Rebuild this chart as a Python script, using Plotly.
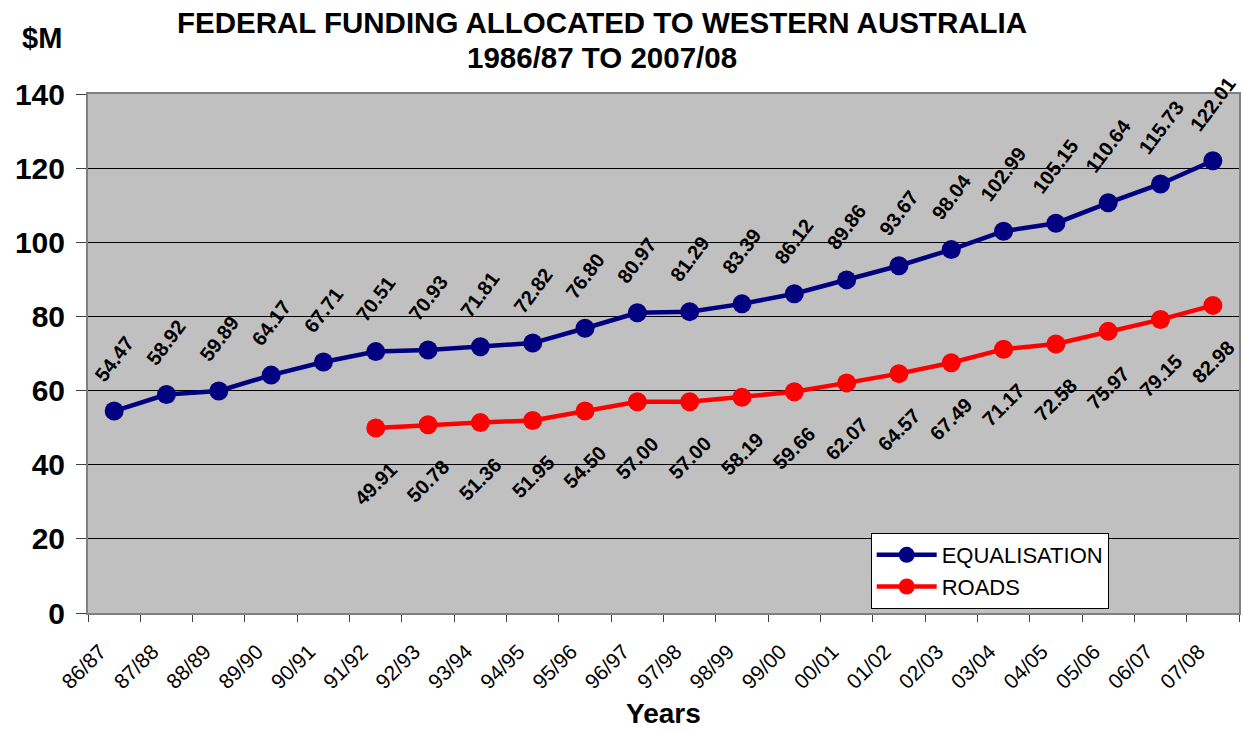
import plotly.graph_objects as go

years = ["86/87", "87/88", "88/89", "89/90", "90/91", "91/92", "92/93", "93/94",
         "94/95", "95/96", "96/97", "97/98", "98/99", "99/00", "00/01", "01/02",
         "02/03", "03/04", "04/05", "05/06", "06/07", "07/08"]
equalisation = [54.47, 58.92, 59.89, 64.17, 67.71, 70.51, 70.93, 71.81, 72.82, 76.80,
                 80.97, 81.29, 83.39, 86.12, 89.86, 93.67, 98.04, 102.99, 105.15,
                 110.64, 115.73, 122.01]
roads_years = years[5:]
roads = [49.91, 50.78, 51.36, 51.95, 54.50, 57.00, 57.00, 58.19, 59.66, 62.07,
         64.57, 67.49, 71.17, 72.58, 75.97, 79.15, 82.98]

FONT = "Liberation Sans, Arial, sans-serif"
BLUE = "#000080"
RED = "#FF0000"

fig = go.Figure()
fig.add_trace(go.Scatter(x=years, y=equalisation, mode="lines+markers", name="EQUALISATION",
                         line=dict(color=BLUE, width=4.5), marker=dict(color=BLUE, size=19),
                         cliponaxis=False))
fig.add_trace(go.Scatter(x=roads_years, y=roads, mode="lines+markers", name="ROADS",
                         line=dict(color=RED, width=4.5), marker=dict(color=RED, size=19),
                         cliponaxis=False))

annotations = []
for xv, yv in zip(years, equalisation):
    annotations.append(dict(x=xv, y=yv, xref="x", yref="y", text=f"{yv:.2f}", showarrow=False,
                            textangle=-53, xanchor="center", yanchor="bottom", yshift=23,
                            font=dict(family=FONT, size=20, color="black", weight="bold")))
for xv, yv in zip(roads_years, roads):
    annotations.append(dict(x=xv, y=yv, xref="x", yref="y", text=f"{yv:.2f}", showarrow=False,
                            textangle=-45, xanchor="center", yanchor="top", yshift=-28,
                            font=dict(family=FONT, size=20, color="black", weight="bold")))

annotations += [
    dict(text="FEDERAL FUNDING ALLOCATED TO WESTERN AUSTRALIA", xref="paper", yref="paper",
         x=0.4467, y=1.1387, xanchor="center", yanchor="middle", showarrow=False,
         font=dict(family=FONT, size=29.5, color="black", weight="bold")),
    dict(text="1986/87 TO 2007/08", xref="paper", yref="paper",
         x=0.4467, y=1.0694, xanchor="center", yanchor="middle", showarrow=False,
         font=dict(family=FONT, size=29.5, color="black", weight="bold")),
    dict(text="$M", xref="paper", yref="paper", x=-0.0399, y=1.108, xanchor="center",
         yanchor="middle", showarrow=False,
         font=dict(family=FONT, size=29, color="black", weight="bold")),
    dict(text="Years", xref="paper", yref="paper", x=0.5, y=-0.1927, xanchor="center",
         yanchor="middle", showarrow=False,
         font=dict(family=FONT, size=28, color="black", weight="bold")),
]

fig.update_layout(
    width=1243, height=731,
    margin=dict(l=88, r=2, t=94, b=118),
    paper_bgcolor="white", plot_bgcolor="#C0C0C0",
    showlegend=True,
    legend=dict(x=0.68, y=0.154, xanchor="left", yanchor="top", bgcolor="white",
                bordercolor="black", borderwidth=1, itemwidth=60,
                font=dict(family=FONT, size=22, color="black")),
    annotations=annotations,
)
fig.update_xaxes(type="category", categoryorder="array", categoryarray=years,
                 range=[-0.5, 21.5], tickson="boundaries", ticks="outside", ticklen=7,
                 tickcolor="#404040", tickangle=-45, ticklabelshift=-14, ticklabelstandoff=16,
                 tickfont=dict(family=FONT, size=21, color="black"),
                 showgrid=False, showline=True, linecolor="#808080", linewidth=2, mirror=True)
fig.update_yaxes(range=[0, 140], dtick=20, ticks="outside", ticklen=10, tickcolor="#404040",
                 ticklabelstandoff=5,
                 tickfont=dict(family=FONT, size=30, color="black", weight="bold"),
                 showgrid=True, gridcolor="black", gridwidth=1, zeroline=False,
                 showline=True, linecolor="#808080", linewidth=2, mirror=True)

fig.write_html("out.html", config={"displayModeBar": False},
               post_script="document.body.style.margin='0';document.body.style.overflow='hidden';")
